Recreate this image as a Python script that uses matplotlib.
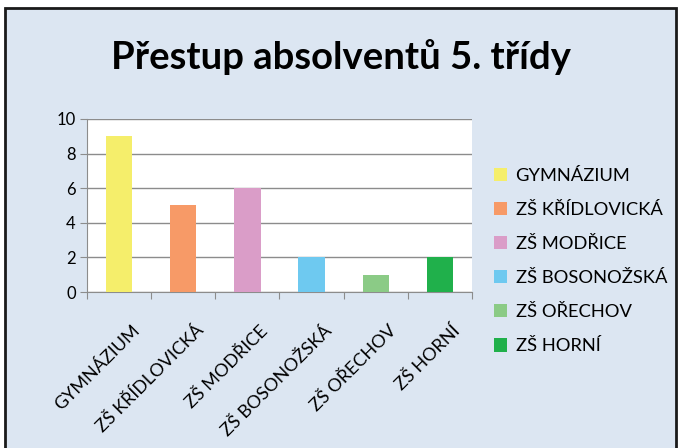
import matplotlib
matplotlib.use("Agg")
import matplotlib.pyplot as plt
from matplotlib.patches import Rectangle
from matplotlib.transforms import ScaledTranslation

categories = ["GYMNÁZIUM", "ZŠ KŘÍDLOVICKÁ", "ZŠ MODŘICE", "ZŠ BOSONOŽSKÁ", "ZŠ OŘECHOV", "ZŠ HORNÍ"]
values = [9, 5, 6, 2, 1, 2]
colors = ["#F5EE6B", "#F79A67", "#DA9DC8", "#6EC9F0", "#8BCB86", "#20B04B"]
yticks = [0, 2, 4, 6, 8, 10]
title = "Přestup absolventů 5. třídy"

W, H = 678, 448
fig = plt.figure(figsize=(W / 100, H / 100), dpi=100)
fig.patch.set_facecolor("white")
bg = Rectangle((5 / W, -10 / H), (W - 7) / W, (H + 2) / H, transform=fig.transFigure,
               facecolor="#DCE6F2", edgecolor="#1a1a1a", linewidth=2, zorder=-5)
fig.add_artist(bg)

ax = fig.add_axes([87 / W, (H - 292) / H, (472 - 87) / W, (292 - 119) / H])
ax.set_zorder(2)
ax.set_facecolor("white")
x = list(range(len(categories)))
bars = ax.bar(x, values, width=0.41, color=colors, zorder=3)
ax.set_xlim(-0.5, len(categories) - 0.5)
ax.set_ylim(0, 10)
ax.set_yticks(yticks)
ax.set_yticklabels([str(t) for t in yticks], fontsize=12, family="Lato")
ax.yaxis.grid(True, color="#8c8c8c", linewidth=1, zorder=1)
ax.set_axisbelow(True)
for s in ["top", "right"]:
    ax.spines[s].set_visible(False)
ax.spines["left"].set_color("#8c8c8c")
ax.spines["bottom"].set_color("#8c8c8c")
ax.tick_params(axis="y", length=5, color="#8c8c8c", pad=3)
ax.set_xticks([i - 0.5 for i in range(len(categories) + 1)])
ax.set_xticklabels([])
ax.tick_params(axis="x", length=5, color="#8c8c8c")
ax.set_xticks(x, minor=True)
ax.set_xticklabels(categories, minor=True, rotation=45, ha="right", va="top",
                   rotation_mode="anchor", fontsize=13, family="Lato")
ax.tick_params(axis="x", which="minor", length=0, pad=22)
off = ScaledTranslation(12 / 100, 0, fig.dpi_scale_trans)
for lab in ax.get_xticklabels(minor=True):
    lab.set_transform(lab.get_transform() + off)

fig.text(341 / W, 1 - 57 / H, title, ha="center", va="center", fontsize=27.5,
         fontweight="bold", family="Lato")

leg = fig.legend(bars, categories, loc="center left", bbox_to_anchor=(477 / W, 1 - 261 / H),
                 frameon=False, prop={"family": "Lato", "size": 13.2},
                 handlelength=0.75, handleheight=0.75, labelspacing=0.98, handletextpad=0.45)

fig.savefig("out.png", dpi=100, facecolor=fig.get_facecolor())
